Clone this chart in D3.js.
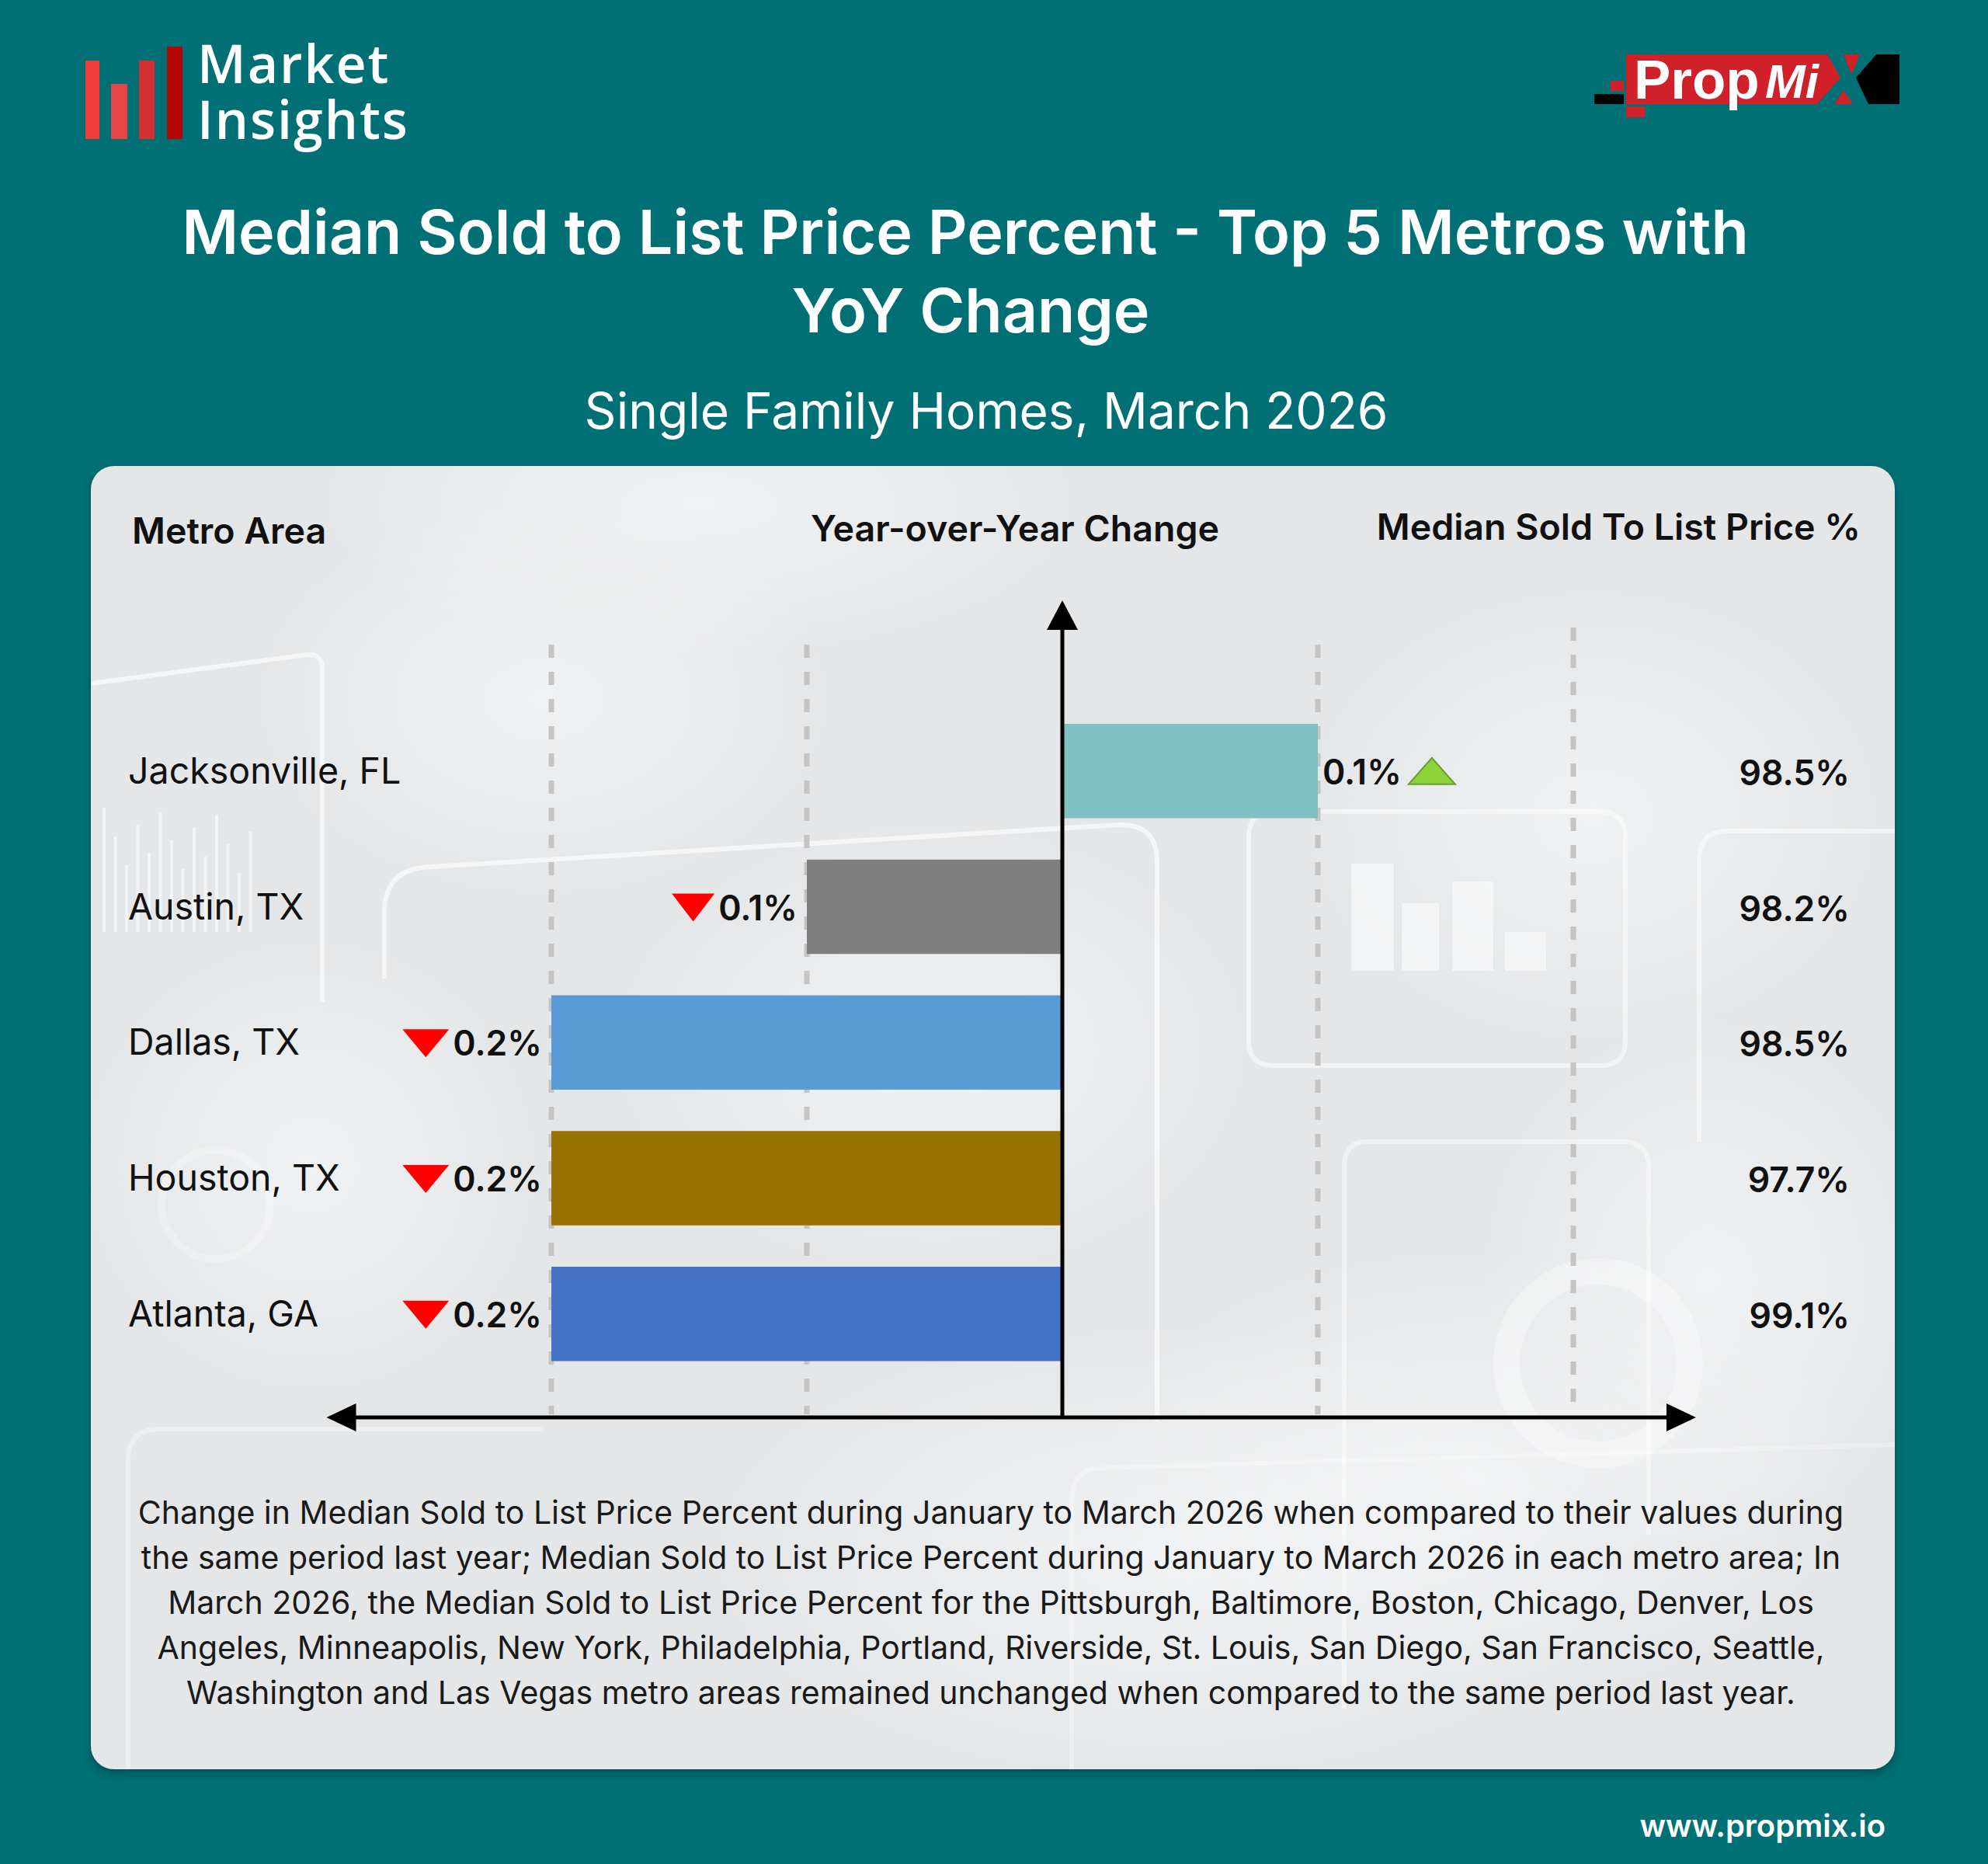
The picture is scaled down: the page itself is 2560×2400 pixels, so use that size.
<!DOCTYPE html>
<html>
<head>
<meta charset="utf-8">
<script src="https://cdn.jsdelivr.net/npm/d3@7/dist/d3.min.js"></script>
<style>
  html, body { margin: 0; padding: 0; background: #007074; }
  svg { display: block; }
</style>
</head>
<body>
<script>
// ---------------- DATA ----------------
const metros = ["Jacksonville, FL", "Austin, TX", "Dallas, TX", "Houston, TX", "Atlanta, GA"];
const yoyChange = [0.1, -0.1, -0.2, -0.2, -0.2];
const medianSoldToList = [98.5, 98.2, 98.5, 97.7, 99.1];
const gridTicks = [-0.2, -0.1, 0.1, 0.2];
const axisExtent = [-0.288, 0.248];
const headers = ["Metro Area", "Year-over-Year Change", "Median Sold To List Price %"];
const titleLines = ["Median Sold to List Price Percent - Top 5 Metros with", "YoY Change"];
const subtitle = "Single Family Homes, March 2026";
const logoLines = ["Market", "Insights"];
const footnoteLines = [
  "Change in Median Sold to List Price Percent during January to March 2026 when compared to their values during",
  "the same period last year; Median Sold to List Price Percent during January to March 2026 in each metro area; In",
  "March 2026, the Median Sold to List Price Percent for the Pittsburgh, Baltimore, Boston, Chicago, Denver, Los",
  "Angeles, Minneapolis, New York, Philadelphia, Portland, Riverside, St. Louis, San Diego, San Francisco, Seattle,",
  "Washington and Las Vegas metro areas remained unchanged when compared to the same period last year."
];
const website = "www.propmix.io";

// ---------------- STYLE ----------------
const barColors = ["#80c1c3", "#7f7f7f", "#5b9bd5", "#997300", "#4472c4"];
const FONT = "Inter, 'Noto Sans', sans-serif";
const W = 2560, H = 2400;

const svg = d3.select("body").append("svg").attr("width", W).attr("height", H)
  .attr("viewBox", `0 0 ${W} ${H}`);
const defs = svg.append("defs");

// background
svg.append("rect").attr("width", W).attr("height", H).attr("fill", "#007074");

// ---------------- LOGO: Market Insights ----------------
const logo = svg.append("g");
[[110, 78, 18, "#f03c3c"], [143, 108, 21, "#e64545"], [179, 78, 20, "#d52f2f"], [215, 60, 20, "#b50505"]]
  .forEach(([x, y, w, c]) => logo.append("rect").attr("x", x).attr("y", y).attr("width", w).attr("height", 179 - y).attr("fill", c));
const logoText = logo.append("text")
  .attr("font-family", "'Open Sans', sans-serif").attr("font-weight", 600).attr("font-size", 68)
  .attr("letter-spacing", 2).attr("fill", "#fff");
logoText.selectAll("tspan").data(logoLines).join("tspan")
  .attr("x", 254).attr("y", (d, i) => i === 0 ? 107 : 179).text(d => d);

// ---------------- LOGO: PropMix ----------------
const pm = svg.append("g");
pm.append("polygon").attr("points", "2094,70 2353,70 2370,100 2340,134 2094,134").attr("fill", "#d0202a");
pm.append("polygon").attr("points", "2374,70 2395,70 2384,96").attr("fill", "#d0202a");
pm.append("polygon").attr("points", "2362,134 2386,134 2374,116").attr("fill", "#d0202a");
pm.append("polygon").attr("points", "2416,70 2446,70 2446,134 2406,134 2390,100").attr("fill", "#000");
pm.append("rect").attr("x", 2053).attr("y", 121).attr("width", 38).attr("height", 13).attr("fill", "#000");
pm.append("rect").attr("x", 2074).attr("y", 104).attr("width", 17).attr("height", 13).attr("fill", "#d0202a");
pm.append("rect").attr("x", 2094).attr("y", 137).attr("width", 24).attr("height", 14).attr("fill", "#d0202a");
pm.append("text").attr("x", 2104).attr("y", 127).text("Prop")
  .attr("font-family", "'Liberation Sans', Arial, sans-serif").attr("font-weight", 700).attr("font-size", 71).attr("fill", "#fff");
pm.append("text").attr("x", 2273).attr("y", 126).text("Mi")
  .attr("font-family", "'Liberation Sans', Arial, sans-serif").attr("font-weight", 700).attr("font-style", "italic")
  .attr("font-size", 62).attr("fill", "#fff");

// ---------------- TITLES ----------------
svg.selectAll("text.title").data(titleLines).join("text").attr("class", "title")
  .attr("x", (d, i) => i === 0 ? 1243 : 1250).attr("y", (d, i) => 327 + i * 101).attr("text-anchor", "middle")
  .attr("font-family", FONT).attr("font-weight", 600).attr("font-size", 79).attr("fill", "#fff").text(d => d);
svg.append("text").attr("x", 1270).attr("y", 552).attr("text-anchor", "middle")
  .attr("font-family", FONT).attr("font-weight", 400).attr("font-size", 64).attr("fill", "#fff").text(subtitle);

// ---------------- PANEL ----------------
const shadow = defs.append("filter").attr("id", "shadow").attr("x", -0.05).attr("y", -0.05).attr("width", 1.1).attr("height", 1.1);
shadow.append("feDropShadow").attr("dx", 0).attr("dy", 6).attr("stdDeviation", 6).attr("flood-color", "#003a3c").attr("flood-opacity", 0.6);
const glow = defs.append("radialGradient").attr("id", "glow");
glow.append("stop").attr("offset", "0%").attr("stop-color", "#fff").attr("stop-opacity", 0.75);
glow.append("stop").attr("offset", "100%").attr("stop-color", "#fff").attr("stop-opacity", 0);
const clip = defs.append("clipPath").attr("id", "panelClip");
clip.append("rect").attr("x", 117).attr("y", 600).attr("width", 2323).attr("height", 1678).attr("rx", 30);

svg.append("rect").attr("x", 117).attr("y", 600).attr("width", 2323).attr("height", 1678).attr("rx", 30)
  .attr("fill", "#e4e6e8").attr("filter", "url(#shadow)");

const deco = svg.append("g").attr("clip-path", "url(#panelClip)");
[[700, 900, 380, 260], [1200, 1350, 420, 300], [2050, 1050, 380, 300], [1500, 2000, 600, 300],
 [400, 1500, 300, 300], [2200, 1650, 300, 350], [900, 650, 500, 200], [1900, 1900, 500, 300]]
  .forEach(([cx, cy, rx, ry]) => deco.append("ellipse").attr("cx", cx).attr("cy", cy).attr("rx", rx).attr("ry", ry)
    .attr("fill", "url(#glow)").attr("opacity", 0.6));
const ds = (p, o = 0.6, w = 6) => deco.append("path").attr("d", p).attr("fill", "none")
  .attr("stroke", "#fff").attr("stroke-opacity", o).attr("stroke-width", w);
ds("M117,880 L395,843 Q415,841 415,861 L415,1290");
ds("M495,1260 L495,1175 Q495,1118 555,1116 L1440,1062 Q1490,1060 1490,1110 L1490,1830");
ds("M1640,1045 L2060,1045 Q2093,1045 2093,1078 L2093,1340 Q2093,1372 2060,1372 L1640,1372 Q1608,1372 1608,1340 L1608,1078 Q1608,1045 1640,1045", 0.5);
ds("M1760,1470 L2090,1470 Q2123,1470 2123,1503 L2123,1976 M1731,2200 L1731,1503 Q1731,1470 1760,1470", 0.45);
ds("M2440,1070 L2225,1070 Q2188,1070 2188,1107 L2188,1470", 0.5);
ds("M165,2280 L165,1880 Q165,1840 205,1840 L700,1840", 0.35);
ds("M1380,2280 L1380,1930 Q1380,1890 1420,1890 L2440,1860", 0.3);
deco.append("circle").attr("cx", 2058).attr("cy", 1755).attr("r", 118).attr("fill", "none")
  .attr("stroke", "#fff").attr("stroke-opacity", 0.35).attr("stroke-width", 34);
deco.append("circle").attr("cx", 278).attr("cy", 1551).attr("r", 70).attr("fill", "none")
  .attr("stroke", "#fff").attr("stroke-opacity", 0.25).attr("stroke-width", 10);
[[1740, 1112, 55, 138], [1805, 1163, 48, 87], [1870, 1135, 53, 115], [1938, 1200, 53, 50]]
  .forEach(([x, y, w, h]) => deco.append("rect").attr("x", x).attr("y", y).attr("width", w).attr("height", h)
    .attr("fill", "#fff").attr("opacity", 0.5));
d3.range(0, 14).forEach(i => deco.append("line").attr("x1", 134 + i * 14.5).attr("x2", 134 + i * 14.5)
  .attr("y1", 1200).attr("y2", 1040 + ((i * 37) % 90)).attr("stroke", "#fff").attr("stroke-opacity", 0.55).attr("stroke-width", 4));

// ---------------- CHART ----------------
const x = d3.scaleLinear().domain([0, 0.1]).range([1368, 1697]);
const y = d3.scaleBand().domain(metros).range([932, 1752.5]).paddingInner(0.3047).paddingOuter(0);
const axisY = 1825;
const data = metros.map((m, i) => ({ metro: m, change: yoyChange[i], value: medianSoldToList[i], color: barColors[i] }));

// headers
const hdr = svg.append("g").attr("font-family", FONT).attr("font-weight", 600).attr("font-size", 46.5).attr("fill", "#111");
hdr.append("text").attr("x", 170).attr("y", 700).text(headers[0]);
hdr.append("text").attr("x", 1044).attr("y", 697).text(headers[1]);
hdr.append("text").attr("x", 2396).attr("y", 695).attr("text-anchor", "end").text(headers[2]);

// gridlines
svg.append("g").selectAll("line").data(gridTicks).join("line")
  .attr("x1", d => x(d)).attr("x2", d => x(d))
  .attr("y1", d => d > 0.15 ? 808 : 830).attr("y2", axisY - 4)
  .attr("stroke", "#c4c4c4").attr("stroke-width", 7).attr("stroke-dasharray", "17 18");

// bars
svg.append("g").selectAll("rect").data(data).join("rect")
  .attr("x", d => x(Math.min(0, d.change))).attr("width", d => Math.abs(x(d.change) - x(0)))
  .attr("y", d => y(d.metro)).attr("height", y.bandwidth()).attr("fill", d => d.color);

// axes with arrows
const ax = svg.append("g").attr("fill", "#000");
const xl = x(axisExtent[0]), xr = x(axisExtent[1]);
ax.append("line").attr("x1", xl + 30).attr("x2", xr - 30).attr("y1", axisY).attr("y2", axisY).attr("stroke", "#000").attr("stroke-width", 5);
ax.append("polygon").attr("points", `${xl},${axisY} ${xl + 38},${axisY - 18} ${xl + 38},${axisY + 18}`);
ax.append("polygon").attr("points", `${xr},${axisY} ${xr - 38},${axisY - 18} ${xr - 38},${axisY + 18}`);
ax.append("line").attr("x1", x(0)).attr("x2", x(0)).attr("y1", 800).attr("y2", axisY + 2).attr("stroke", "#000").attr("stroke-width", 5);
ax.append("polygon").attr("points", `${x(0)},773 ${x(0) - 20},811 ${x(0) + 20},811`);

// metro names
svg.append("g").selectAll("text").data(data).join("text")
  .attr("x", 165).attr("y", d => y(d.metro) + y.bandwidth() / 2 + 16)
  .attr("font-family", FONT).attr("font-weight", 400).attr("font-size", 46.5).attr("fill", "#111").text(d => d.metro);

// change labels + triangles
const lab = svg.append("g");
data.forEach(d => {
  const cy = y(d.metro) + y.bandwidth() / 2;
  const base = cy + 17;
  const pos = d.change > 0;
  const t = lab.append("text").attr("x", pos ? x(d.change) + 6 : x(d.change) - 12).attr("y", base)
    .attr("text-anchor", pos ? "start" : "end")
    .attr("font-family", FONT).attr("font-weight", 600).attr("font-size", 44.5).attr("fill", "#111")
    .text(d3.format(".1f")(Math.abs(d.change)) + "%");
  const tw = t.node().getComputedTextLength();
  const cap = 34;
  if (pos) {
    const x0 = x(d.change) + 6 + tw + 9;
    lab.append("polygon").attr("points", `${x0},${base} ${x0 + 60},${base} ${x0 + 30},${base - cap}`)
      .attr("fill", "#8cd43a").attr("stroke", "#6a9e2e").attr("stroke-width", 2);
  } else {
    const x1 = x(d.change) - 12 - tw - 5;
    const w = Math.abs(d.change) > 0.15 ? 60 : 55;
    lab.append("polygon").attr("points", `${x1 - w},${base - cap} ${x1},${base - cap} ${x1 - w / 2},${base + 2}`)
      .attr("fill", "#ff0000");
  }
});

// right column values
svg.append("g").selectAll("text").data(data).join("text")
  .attr("x", 2382).attr("y", d => y(d.metro) + y.bandwidth() / 2 + 18).attr("text-anchor", "end")
  .attr("font-family", FONT).attr("font-weight", 600).attr("font-size", 44.5).attr("fill", "#111")
  .text(d => d3.format(".1f")(d.value) + "%");

// footnote
svg.append("g").selectAll("text").data(footnoteLines).join("text")
  .attr("x", 1276).attr("y", (d, i) => 1962 + i * 58).attr("text-anchor", "middle")
  .attr("font-family", FONT).attr("font-weight", 400).attr("font-size", 41).attr("fill", "#1a1a1a").text(d => d);

// website
svg.append("text").attr("x", 2428).attr("y", 2365).attr("text-anchor", "end")
  .attr("font-family", FONT).attr("font-weight", 600).attr("font-size", 40).attr("fill", "#fff").text(website);
</script>
</body>
</html>
